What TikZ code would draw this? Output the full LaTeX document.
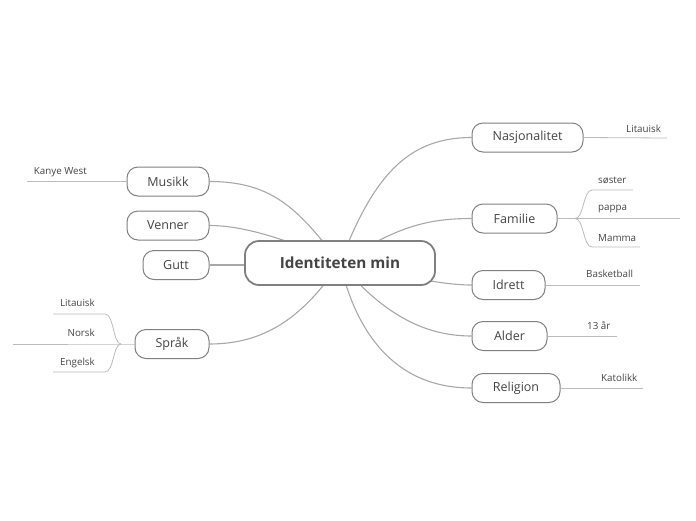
\documentclass[tikz,border=0pt]{standalone}
\usepackage{fontspec}
\setmainfont{Open Sans}
\usetikzlibrary{backgrounds}
\definecolor{txt}{HTML}{444444}
\definecolor{bord}{HTML}{808080}
\definecolor{conn}{HTML}{A8A8A8}
\definecolor{twigc}{HTML}{BBBBBB}
\tikzset{
 root/.style={draw=bord, line width=1.8pt, rounded corners=14pt, fill=white, minimum width=190pt, minimum height=44pt, font=\fontsize{15.3}{17}\selectfont\bfseries, text=txt, inner sep=0pt},
 topic/.style={draw=bord, line width=1pt, rounded corners=11pt, fill=white, minimum height=29pt, font=\fontsize{12.5}{14}\selectfont, text=txt, inner sep=0pt},
 leaf/.style={font=\fontsize{9.8}{11}\selectfont, text=txt, inner sep=0pt},
 branch/.style={draw=conn, line width=1.1pt},
 twig/.style={draw=twigc, line width=0.8pt},
}
\begin{document}
\begin{tikzpicture}[x=1pt,y=-1pt]
\useasboundingbox (0,0) rectangle (696,520);
% main nodes
\node[root] (c) at (340,263) {Identiteten min};
\node[topic, minimum width=111pt] (nas) at (527.5,137.5) {Nasjonalitet};
\node[topic, minimum width=85pt] (fam) at (514.5,218.5) {Familie};
\node[topic, minimum width=73pt] (idr) at (508.5,285) {Idrett};
\node[topic, minimum width=75pt] (ald) at (509.5,336) {Alder};
\node[topic, minimum width=88pt] (rel) at (516,388) {Religion};
\node[topic, minimum width=82pt] (mus) at (168,181.5) {Musikk};
\node[topic, minimum width=82pt] (ven) at (168,225.5) {Venner};
\node[topic, minimum width=66pt] (gut) at (176,265) {Gutt};
\node[topic, minimum width=74pt] (spr) at (172,344) {Språk};
% connectors from centre
\begin{scope}[on background layer]
\draw[branch] (c.center) .. controls (372,180) and (405,137.5) .. (nas.west);
\draw[branch] (c.center) .. controls (395,228) and (425,218.5) .. (fam.west);
\draw[branch] (c.center) .. controls (400,275) and (440,285) .. (idr.west);
\draw[branch] (c.center) .. controls (380,310) and (420,336) .. (ald.west);
\draw[branch] (c.center) .. controls (358,340) and (400,388) .. (rel.west);
\draw[branch] (c.center) .. controls (300,212) and (275,181.5) .. (mus.east);
\draw[branch] (c.center) .. controls (300,245) and (250,225.5) .. (ven.east);
\draw[branch] (gut.east) -- (gut.east -| c.west);
\draw[branch] (c.center) .. controls (305,314) and (268,344) .. (spr.east);
\end{scope}
% leaves right
\coordinate (nasE) at (667,138);
\draw[twig] (nas.east) -- (nasE);
\node[leaf, anchor=west] (nasL) at (626,129) {Litauisk};

\coordinate (famJ) at (575,218.5);
\coordinate (famP) at (680,218.5);
\coordinate (famS1) at (592,190);
\coordinate (famS2) at (633,190);
\coordinate (famM1) at (592,247);
\coordinate (famM2) at (640,247);
\draw[twig] (fam.east) -- (famJ) -- (famP);
\draw[twig] (famJ) .. controls (584,218.5) and (583,190) .. (famS1) -- (famS2);
\draw[twig] (famJ) .. controls (584,218.5) and (583,247) .. (famM1) -- (famM2);
\node[leaf, anchor=west] (famL1) at (598,180) {søster};
\node[leaf, anchor=west] (famL2) at (598,209) {pappa};
\node[leaf, anchor=west] (famL3) at (598,238) {Mamma};

\coordinate (idrE) at (640,285);
\draw[twig] (idr.east) -- (idrE);
\node[leaf, anchor=west] (idrL) at (586,274) {Basketball};

\coordinate (aldE) at (617,336);
\draw[twig] (ald.east) -- (aldE);
\node[leaf, anchor=west] (aldL) at (587,326) {13 år};

\coordinate (relE) at (643,388);
\draw[twig] (rel.east) -- (relE);
\node[leaf, anchor=west] (relL) at (601,378) {Katolikk};

% leaves left
\coordinate (musE) at (27,181.5);
\draw[twig] (mus.west) -- (musE);
\node[leaf, anchor=east] (musL) at (87,172) {Kanye West};

\coordinate (sprJ) at (121,344);
\coordinate (sprN) at (13,344);
\coordinate (sprA1) at (105,314);
\coordinate (sprA2) at (53,314);
\coordinate (sprB1) at (105,372);
\coordinate (sprB2) at (53,372);
\draw[twig] (spr.west) -- (sprJ) -- (sprN);
\draw[twig] (sprJ) .. controls (113,344) and (114,314) .. (sprA1) -- (sprA2);
\draw[twig] (sprJ) .. controls (113,344) and (114,372) .. (sprB1) -- (sprB2);
\node[leaf, anchor=east] (sprL1) at (95,303) {Litauisk};
\node[leaf, anchor=east] (sprL2) at (95,333) {Norsk};
\node[leaf, anchor=east] (sprL3) at (95,363) {Engelsk};
\end{tikzpicture}
\end{document}
